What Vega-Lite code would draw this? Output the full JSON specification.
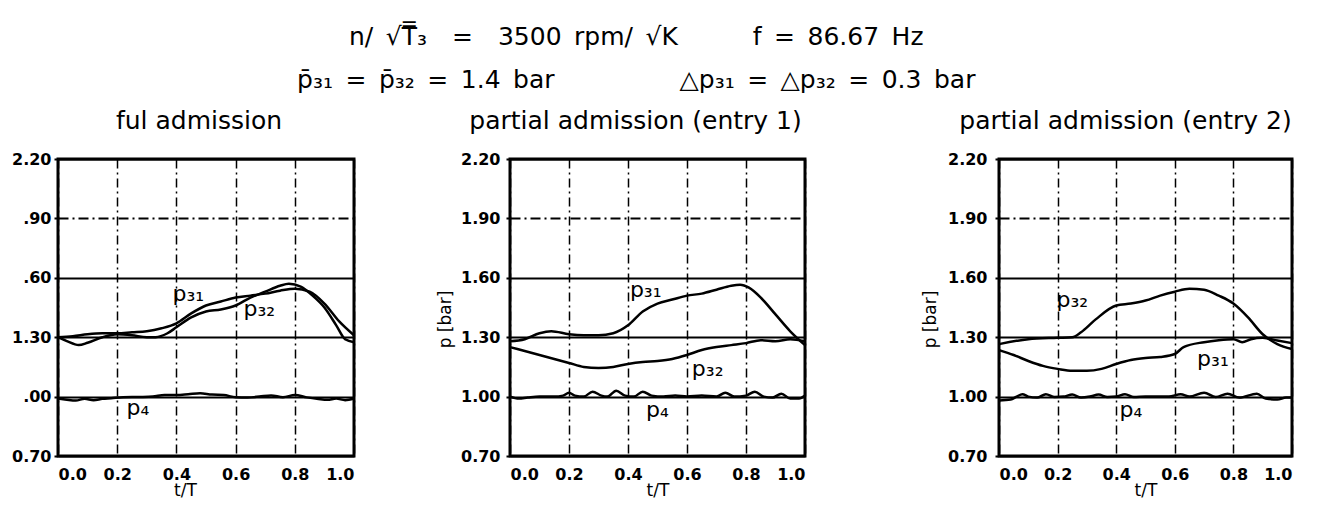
{
  "$schema": "https://vega.github.io/schema/vega-lite/v6.json",
  "background": "white",
  "padding": {"left": 10, "top": 24, "right": 5, "bottom": 0},
  "title": {
    "text": ["n/\u2002\u221aT\u033f\u2083\u2002\u2002=\u2002\u20023500\u2002rpm/\u2002\u221aK\u2003\u2003\u2003f\u2002=\u200286.67\u2002Hz", "p\u0304\u2083\u2081\u2002=\u2002p\u0304\u2083\u2082\u2002=\u20021.4\u2002bar\u2003\u2003\u2003\u2003\u2003\u25b3p\u2083\u2081\u2002=\u2002\u25b3p\u2083\u2082\u2002=\u20020.3\u2002bar"],
    "font": "DejaVu Sans", "fontSize": 25, "fontWeight": "normal", "lineHeight": 43, "color": "black", "anchor": "middle", "frame": "bounds", "dx": -18, "offset": 15
  },
  "datasets": {
    "curves": [
      {"panel":1,"series":"p31","t":0,"p":1.30},{"panel":1,"series":"p31","t":0.05,"p":1.305},{"panel":1,"series":"p31","t":0.1,"p":1.315},{"panel":1,"series":"p31","t":0.15,"p":1.32},{"panel":1,"series":"p31","t":0.2,"p":1.32},{"panel":1,"series":"p31","t":0.25,"p":1.325},{"panel":1,"series":"p31","t":0.3,"p":1.33},{"panel":1,"series":"p31","t":0.35,"p":1.345},{"panel":1,"series":"p31","t":0.4,"p":1.37},{"panel":1,"series":"p31","t":0.45,"p":1.42},{"panel":1,"series":"p31","t":0.5,"p":1.46},{"panel":1,"series":"p31","t":0.55,"p":1.48},{"panel":1,"series":"p31","t":0.6,"p":1.50},{"panel":1,"series":"p31","t":0.65,"p":1.51},{"panel":1,"series":"p31","t":0.7,"p":1.52},{"panel":1,"series":"p31","t":0.75,"p":1.535},{"panel":1,"series":"p31","t":0.8,"p":1.545},{"panel":1,"series":"p31","t":0.85,"p":1.53},{"panel":1,"series":"p31","t":0.9,"p":1.47},{"panel":1,"series":"p31","t":0.95,"p":1.38},{"panel":1,"series":"p31","t":1.0,"p":1.31},
      {"panel":1,"series":"p32","t":0,"p":1.30},{"panel":1,"series":"p32","t":0.03,"p":1.28},{"panel":1,"series":"p32","t":0.07,"p":1.26},{"panel":1,"series":"p32","t":0.1,"p":1.272},{"panel":1,"series":"p32","t":0.15,"p":1.30},{"panel":1,"series":"p32","t":0.2,"p":1.315},{"panel":1,"series":"p32","t":0.25,"p":1.31},{"panel":1,"series":"p32","t":0.3,"p":1.30},{"panel":1,"series":"p32","t":0.33,"p":1.30},{"panel":1,"series":"p32","t":0.37,"p":1.32},{"panel":1,"series":"p32","t":0.4,"p":1.35},{"panel":1,"series":"p32","t":0.45,"p":1.40},{"panel":1,"series":"p32","t":0.5,"p":1.43},{"panel":1,"series":"p32","t":0.55,"p":1.44},{"panel":1,"series":"p32","t":0.6,"p":1.46},{"panel":1,"series":"p32","t":0.65,"p":1.50},{"panel":1,"series":"p32","t":0.7,"p":1.53},{"panel":1,"series":"p32","t":0.75,"p":1.56},{"panel":1,"series":"p32","t":0.78,"p":1.57},{"panel":1,"series":"p32","t":0.82,"p":1.555},{"panel":1,"series":"p32","t":0.86,"p":1.51},{"panel":1,"series":"p32","t":0.9,"p":1.45},{"panel":1,"series":"p32","t":0.94,"p":1.36},{"panel":1,"series":"p32","t":0.97,"p":1.29},{"panel":1,"series":"p32","t":1.0,"p":1.275},
      {"panel":1,"series":"p4","t":0,"p":0.99},{"panel":1,"series":"p4","t":0.03,"p":0.984},{"panel":1,"series":"p4","t":0.06,"p":0.98},{"panel":1,"series":"p4","t":0.09,"p":0.989},{"panel":1,"series":"p4","t":0.12,"p":0.982},{"panel":1,"series":"p4","t":0.15,"p":0.989},{"panel":1,"series":"p4","t":0.18,"p":0.992},{"panel":1,"series":"p4","t":0.22,"p":0.997},{"panel":1,"series":"p4","t":0.28,"p":0.998},{"panel":1,"series":"p4","t":0.32,"p":1.0},{"panel":1,"series":"p4","t":0.36,"p":1.008},{"panel":1,"series":"p4","t":0.4,"p":1.008},{"panel":1,"series":"p4","t":0.44,"p":1.012},{"panel":1,"series":"p4","t":0.48,"p":1.017},{"panel":1,"series":"p4","t":0.52,"p":1.01},{"panel":1,"series":"p4","t":0.56,"p":1.008},{"panel":1,"series":"p4","t":0.6,"p":0.997},{"panel":1,"series":"p4","t":0.64,"p":0.996},{"panel":1,"series":"p4","t":0.68,"p":1.0},{"panel":1,"series":"p4","t":0.72,"p":1.006},{"panel":1,"series":"p4","t":0.76,"p":0.997},{"panel":1,"series":"p4","t":0.8,"p":1.008},{"panel":1,"series":"p4","t":0.84,"p":0.996},{"panel":1,"series":"p4","t":0.88,"p":0.988},{"panel":1,"series":"p4","t":0.91,"p":0.984},{"panel":1,"series":"p4","t":0.94,"p":0.99},{"panel":1,"series":"p4","t":0.97,"p":0.982},{"panel":1,"series":"p4","t":1.0,"p":0.99},
      {"panel":2,"series":"p31","t":0,"p":1.28},{"panel":2,"series":"p31","t":0.05,"p":1.29},{"panel":2,"series":"p31","t":0.1,"p":1.32},{"panel":2,"series":"p31","t":0.14,"p":1.33},{"panel":2,"series":"p31","t":0.2,"p":1.315},{"panel":2,"series":"p31","t":0.25,"p":1.31},{"panel":2,"series":"p31","t":0.3,"p":1.31},{"panel":2,"series":"p31","t":0.35,"p":1.32},{"panel":2,"series":"p31","t":0.4,"p":1.36},{"panel":2,"series":"p31","t":0.45,"p":1.43},{"panel":2,"series":"p31","t":0.5,"p":1.47},{"panel":2,"series":"p31","t":0.55,"p":1.49},{"panel":2,"series":"p31","t":0.6,"p":1.51},{"panel":2,"series":"p31","t":0.65,"p":1.52},{"panel":2,"series":"p31","t":0.7,"p":1.54},{"panel":2,"series":"p31","t":0.75,"p":1.56},{"panel":2,"series":"p31","t":0.78,"p":1.565},{"panel":2,"series":"p31","t":0.81,"p":1.55},{"panel":2,"series":"p31","t":0.85,"p":1.50},{"panel":2,"series":"p31","t":0.9,"p":1.415},{"panel":2,"series":"p31","t":0.95,"p":1.33},{"panel":2,"series":"p31","t":1.0,"p":1.26},
      {"panel":2,"series":"p32","t":0,"p":1.25},{"panel":2,"series":"p32","t":0.05,"p":1.23},{"panel":2,"series":"p32","t":0.1,"p":1.21},{"panel":2,"series":"p32","t":0.15,"p":1.19},{"panel":2,"series":"p32","t":0.2,"p":1.17},{"panel":2,"series":"p32","t":0.25,"p":1.15},{"panel":2,"series":"p32","t":0.3,"p":1.145},{"panel":2,"series":"p32","t":0.35,"p":1.15},{"panel":2,"series":"p32","t":0.4,"p":1.165},{"panel":2,"series":"p32","t":0.45,"p":1.175},{"panel":2,"series":"p32","t":0.5,"p":1.18},{"panel":2,"series":"p32","t":0.55,"p":1.19},{"panel":2,"series":"p32","t":0.6,"p":1.21},{"panel":2,"series":"p32","t":0.65,"p":1.235},{"panel":2,"series":"p32","t":0.7,"p":1.25},{"panel":2,"series":"p32","t":0.75,"p":1.26},{"panel":2,"series":"p32","t":0.8,"p":1.27},{"panel":2,"series":"p32","t":0.85,"p":1.285},{"panel":2,"series":"p32","t":0.9,"p":1.28},{"panel":2,"series":"p32","t":0.95,"p":1.29},{"panel":2,"series":"p32","t":1.0,"p":1.28},
      {"panel":2,"series":"p4","t":0,"p":1.0},{"panel":2,"series":"p4","t":0.03,"p":0.99},{"panel":2,"series":"p4","t":0.06,"p":0.995},{"panel":2,"series":"p4","t":0.1,"p":1.0},{"panel":2,"series":"p4","t":0.15,"p":1.0},{"panel":2,"series":"p4","t":0.18,"p":1.005},{"panel":2,"series":"p4","t":0.2,"p":1.02},{"panel":2,"series":"p4","t":0.22,"p":1.005},{"panel":2,"series":"p4","t":0.25,"p":1.0},{"panel":2,"series":"p4","t":0.28,"p":1.025},{"panel":2,"series":"p4","t":0.31,"p":1.005},{"panel":2,"series":"p4","t":0.33,"p":1.0},{"panel":2,"series":"p4","t":0.36,"p":1.03},{"panel":2,"series":"p4","t":0.39,"p":1.005},{"panel":2,"series":"p4","t":0.42,"p":1.0},{"panel":2,"series":"p4","t":0.45,"p":1.025},{"panel":2,"series":"p4","t":0.48,"p":1.005},{"panel":2,"series":"p4","t":0.52,"p":1.0},{"panel":2,"series":"p4","t":0.56,"p":1.005},{"panel":2,"series":"p4","t":0.6,"p":1.0},{"panel":2,"series":"p4","t":0.65,"p":1.005},{"panel":2,"series":"p4","t":0.7,"p":1.0},{"panel":2,"series":"p4","t":0.73,"p":1.02},{"panel":2,"series":"p4","t":0.76,"p":1.0},{"panel":2,"series":"p4","t":0.8,"p":1.005},{"panel":2,"series":"p4","t":0.83,"p":1.025},{"panel":2,"series":"p4","t":0.86,"p":1.0},{"panel":2,"series":"p4","t":0.89,"p":0.995},{"panel":2,"series":"p4","t":0.92,"p":1.015},{"panel":2,"series":"p4","t":0.95,"p":0.99},{"panel":2,"series":"p4","t":0.98,"p":0.99},{"panel":2,"series":"p4","t":1.0,"p":1.005},
      {"panel":3,"series":"p32","t":0,"p":1.265},{"panel":3,"series":"p32","t":0.1,"p":1.29},{"panel":3,"series":"p32","t":0.2,"p":1.297},{"panel":3,"series":"p32","t":0.25,"p":1.30},{"panel":3,"series":"p32","t":0.28,"p":1.325},{"panel":3,"series":"p32","t":0.33,"p":1.39},{"panel":3,"series":"p32","t":0.4,"p":1.46},{"panel":3,"series":"p32","t":0.45,"p":1.47},{"panel":3,"series":"p32","t":0.5,"p":1.485},{"panel":3,"series":"p32","t":0.55,"p":1.51},{"panel":3,"series":"p32","t":0.6,"p":1.53},{"panel":3,"series":"p32","t":0.65,"p":1.545},{"panel":3,"series":"p32","t":0.7,"p":1.54},{"panel":3,"series":"p32","t":0.75,"p":1.51},{"panel":3,"series":"p32","t":0.8,"p":1.47},{"panel":3,"series":"p32","t":0.85,"p":1.40},{"panel":3,"series":"p32","t":0.9,"p":1.315},{"panel":3,"series":"p32","t":0.95,"p":1.265},{"panel":3,"series":"p32","t":1.0,"p":1.24},
      {"panel":3,"series":"p31","t":0,"p":1.235},{"panel":3,"series":"p31","t":0.05,"p":1.21},{"panel":3,"series":"p31","t":0.1,"p":1.18},{"panel":3,"series":"p31","t":0.15,"p":1.155},{"panel":3,"series":"p31","t":0.2,"p":1.14},{"panel":3,"series":"p31","t":0.25,"p":1.13},{"panel":3,"series":"p31","t":0.3,"p":1.13},{"panel":3,"series":"p31","t":0.35,"p":1.14},{"panel":3,"series":"p31","t":0.4,"p":1.165},{"panel":3,"series":"p31","t":0.45,"p":1.185},{"panel":3,"series":"p31","t":0.5,"p":1.195},{"panel":3,"series":"p31","t":0.55,"p":1.20},{"panel":3,"series":"p31","t":0.6,"p":1.215},{"panel":3,"series":"p31","t":0.63,"p":1.25},{"panel":3,"series":"p31","t":0.7,"p":1.275},{"panel":3,"series":"p31","t":0.75,"p":1.285},{"panel":3,"series":"p31","t":0.8,"p":1.29},{"panel":3,"series":"p31","t":0.83,"p":1.275},{"panel":3,"series":"p31","t":0.86,"p":1.29},{"panel":3,"series":"p31","t":0.9,"p":1.297},{"panel":3,"series":"p31","t":0.95,"p":1.283},{"panel":3,"series":"p31","t":1.0,"p":1.27},
      {"panel":3,"series":"p4","t":0,"p":0.98},{"panel":3,"series":"p4","t":0.04,"p":0.985},{"panel":3,"series":"p4","t":0.06,"p":1.0},{"panel":3,"series":"p4","t":0.08,"p":1.012},{"panel":3,"series":"p4","t":0.1,"p":1.0},{"panel":3,"series":"p4","t":0.13,"p":0.995},{"panel":3,"series":"p4","t":0.16,"p":1.012},{"panel":3,"series":"p4","t":0.19,"p":0.998},{"panel":3,"series":"p4","t":0.22,"p":1.0},{"panel":3,"series":"p4","t":0.25,"p":1.01},{"panel":3,"series":"p4","t":0.28,"p":0.995},{"panel":3,"series":"p4","t":0.31,"p":1.0},{"panel":3,"series":"p4","t":0.34,"p":1.01},{"panel":3,"series":"p4","t":0.37,"p":0.998},{"panel":3,"series":"p4","t":0.4,"p":1.0},{"panel":3,"series":"p4","t":0.43,"p":1.012},{"panel":3,"series":"p4","t":0.46,"p":0.998},{"panel":3,"series":"p4","t":0.5,"p":1.0},{"panel":3,"series":"p4","t":0.54,"p":1.0},{"panel":3,"series":"p4","t":0.58,"p":1.0},{"panel":3,"series":"p4","t":0.62,"p":1.012},{"panel":3,"series":"p4","t":0.65,"p":1.0},{"panel":3,"series":"p4","t":0.7,"p":1.02},{"panel":3,"series":"p4","t":0.74,"p":0.998},{"panel":3,"series":"p4","t":0.78,"p":1.015},{"panel":3,"series":"p4","t":0.82,"p":0.995},{"panel":3,"series":"p4","t":0.88,"p":1.015},{"panel":3,"series":"p4","t":0.91,"p":0.99},{"panel":3,"series":"p4","t":0.95,"p":0.985},{"panel":3,"series":"p4","t":0.98,"p":0.995},{"panel":3,"series":"p4","t":1.0,"p":0.995}
    ],
    "labels": [
      {"panel":1,"label":"p\u2083\u2081","t":0.44,"p":1.52},{"panel":1,"label":"p\u2083\u2082","t":0.68,"p":1.44},{"panel":1,"label":"p\u2084","t":0.27,"p":0.94},
      {"panel":2,"label":"p\u2083\u2081","t":0.46,"p":1.54},{"panel":2,"label":"p\u2083\u2082","t":0.67,"p":1.14},{"panel":2,"label":"p\u2084","t":0.5,"p":0.93},
      {"panel":3,"label":"p\u2083\u2082","t":0.25,"p":1.49},{"panel":3,"label":"p\u2083\u2081","t":0.73,"p":1.19},{"panel":3,"label":"p\u2084","t":0.45,"p":0.93}
    ]
  },
  "config": {
    "view": {"stroke": "black", "strokeWidth": 3},
    "font": "DejaVu Sans",
    "axis": {
      "domain": false, "labelFont": "DejaVu Sans", "labelFontWeight": "bold", "labelFontSize": 16, "labelColor": "black",
      "titleFont": "DejaVu Sans", "titleFontWeight": "normal", "titleFontSize": 17, "titleColor": "black",
      "gridColor": "black", "gridWidth": 2, "gridOpacity": 1, "tickColor": "black", "tickWidth": 2
    }
  },
  "hconcat": [
    {
      "width": 296, "height": 297,
      "title": {"text": "ful admission", "dx": -7, "font": "DejaVu Sans", "fontSize": 25, "fontWeight": "normal", "color": "black", "anchor": "middle", "frame": "group", "offset": 17},
      "layer": [
        {
          "data": {"name": "curves"},
          "transform": [{"filter": "datum.panel == 1"}],
          "mark": {"type": "line", "color": "black", "strokeWidth": 2.5, "interpolate": "monotone"},
          "encoding": {
            "x": {"field": "t", "type": "quantitative", "scale": {"domain": [0, 1], "nice": false},
              "axis": {"values": [0, 0.2, 0.4, 0.6, 0.8, 1], "format": ".1f", "title": "t/T", "grid": true, "gridDash": [9, 4, 2, 4], "gridWidth": 1.5, "tickSize": 0, "labelPadding": 10, "titlePadding": 0, "titleX": 127}},
            "y": {"field": "p", "type": "quantitative", "scale": {"domain": [0.7, 2.2], "nice": false, "zero": false},
              "axis": {"values": [0.7, 1.0, 1.3, 1.6, 1.9, 2.2], "title": null, "grid": true, "tickSize": 4, "labelPadding": 3,
                "gridDash": {"condition": {"test": "abs(datum.value - 1.9) < 0.01", "value": [10, 4, 2, 4]}, "value": [1, 0]},
                "labelExpr": "abs(datum.value - 1.9) < 0.01 ? '.90' : abs(datum.value - 1.6) < 0.01 ? '.60' : abs(datum.value - 1.0) < 0.01 ? '.00' : format(datum.value, '.2f')"}},
            "detail": {"field": "series"}
          }
        },
        {
          "data": {"name": "labels"},
          "transform": [{"filter": "datum.panel == 1"}],
          "mark": {"type": "text", "font": "DejaVu Sans", "fontSize": 22, "color": "black", "align": "center", "baseline": "middle"},
          "encoding": {"x": {"field": "t", "type": "quantitative"}, "y": {"field": "p", "type": "quantitative"}, "text": {"field": "label"}}
        }
      ]
    },
    {
      "spacing": 108,
      "hconcat": [
        {
          "width": 295, "height": 297,
          "title": {"text": "partial admission (entry 1)", "dx": -22, "font": "DejaVu Sans", "fontSize": 25, "fontWeight": "normal", "color": "black", "anchor": "middle", "frame": "group", "offset": 17},
          "layer": [
            {
              "data": {"name": "curves"},
              "transform": [{"filter": "datum.panel == 2"}],
              "mark": {"type": "line", "color": "black", "strokeWidth": 2.5, "interpolate": "monotone"},
              "encoding": {
                "x": {"field": "t", "type": "quantitative", "scale": {"domain": [0, 1], "nice": false},
                  "axis": {"values": [0, 0.2, 0.4, 0.6, 0.8, 1], "format": ".1f", "title": "t/T", "grid": true, "gridDash": [9, 4, 2, 4], "gridWidth": 1.5, "tickSize": 0, "labelPadding": 10, "titlePadding": 0}},
                "y": {"field": "p", "type": "quantitative", "scale": {"domain": [0.7, 2.2], "nice": false, "zero": false},
                  "axis": {"values": [0.7, 1.0, 1.3, 1.6, 1.9, 2.2], "format": ".2f", "title": "p [bar]", "titlePadding": 6, "titleY": 160, "grid": true, "tickSize": 4, "labelPadding": 6,
                    "gridDash": {"condition": {"test": "abs(datum.value - 1.9) < 0.01", "value": [10, 4, 2, 4]}, "value": [1, 0]}}},
                "detail": {"field": "series"}
              }
            },
            {
              "data": {"name": "labels"},
              "transform": [{"filter": "datum.panel == 2"}],
              "mark": {"type": "text", "font": "DejaVu Sans", "fontSize": 22, "color": "black", "align": "center", "baseline": "middle"},
              "encoding": {"x": {"field": "t", "type": "quantitative"}, "y": {"field": "p", "type": "quantitative"}, "text": {"field": "label"}}
            }
          ]
        },
        {
          "width": 293, "height": 297,
          "title": {"text": "partial admission (entry 2)", "dx": -20, "font": "DejaVu Sans", "fontSize": 25, "fontWeight": "normal", "color": "black", "anchor": "middle", "frame": "group", "offset": 17},
          "layer": [
            {
              "data": {"name": "curves"},
              "transform": [{"filter": "datum.panel == 3"}],
              "mark": {"type": "line", "color": "black", "strokeWidth": 2.5, "interpolate": "monotone"},
              "encoding": {
                "x": {"field": "t", "type": "quantitative", "scale": {"domain": [0, 1], "nice": false},
                  "axis": {"values": [0, 0.2, 0.4, 0.6, 0.8, 1], "format": ".1f", "title": "t/T", "grid": true, "gridDash": [9, 4, 2, 4], "gridWidth": 1.5, "tickSize": 0, "labelPadding": 10, "titlePadding": 0}},
                "y": {"field": "p", "type": "quantitative", "scale": {"domain": [0.7, 2.2], "nice": false, "zero": false},
                  "axis": {"values": [0.7, 1.0, 1.3, 1.6, 1.9, 2.2], "format": ".2f", "title": "p [bar]", "titlePadding": 8, "titleY": 160, "grid": true, "tickSize": 4, "labelPadding": 8,
                    "gridDash": {"condition": {"test": "abs(datum.value - 1.9) < 0.01", "value": [10, 4, 2, 4]}, "value": [1, 0]}}},
                "detail": {"field": "series"}
              }
            },
            {
              "data": {"name": "labels"},
              "transform": [{"filter": "datum.panel == 3"}],
              "mark": {"type": "text", "font": "DejaVu Sans", "fontSize": 22, "color": "black", "align": "center", "baseline": "middle"},
              "encoding": {"x": {"field": "t", "type": "quantitative"}, "y": {"field": "p", "type": "quantitative"}, "text": {"field": "label"}}
            }
          ]
        }
      ]
    }
  ],
  "spacing": 74
}
